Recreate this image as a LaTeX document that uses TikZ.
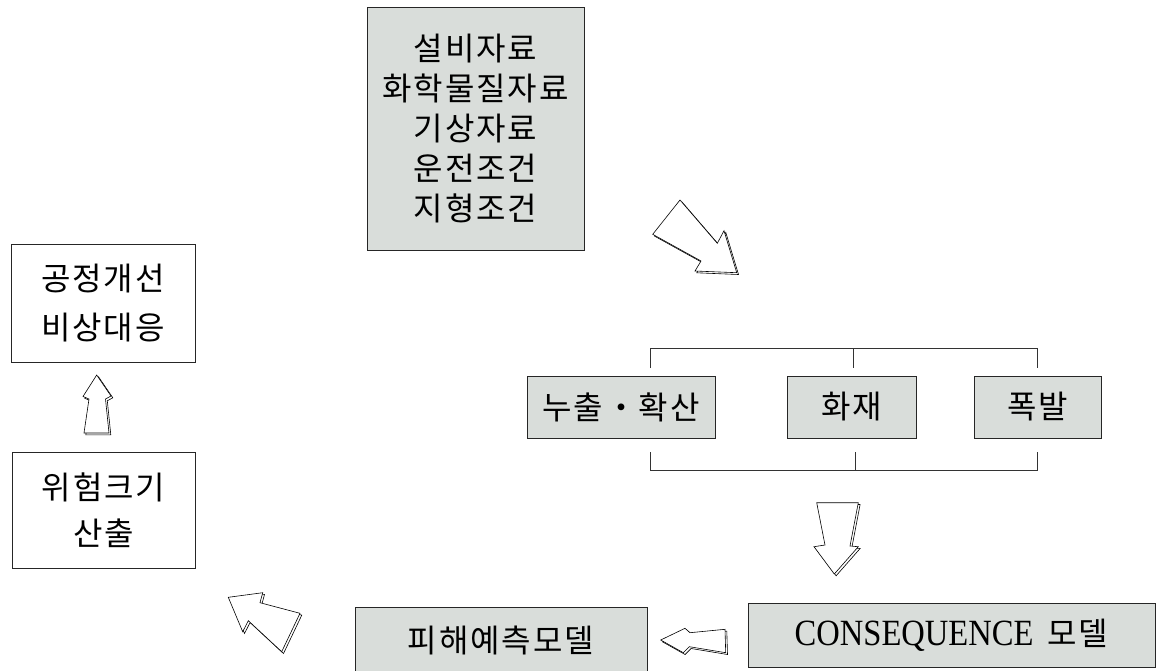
\documentclass[tikz,border=0pt]{standalone}
\usepackage{fontspec}
\setmainfont{Liberation Serif}
\newfontfamily\kr[LetterSpace=6]{Noto Sans CJK KR}
\newfontfamily\latn[FakeStretch=0.88]{Liberation Serif}
\definecolor{panel}{RGB}{217,221,218}

% hollow block arrow with an offset second outline
\newcommand\hollowarrow[1]{%
  \draw[hollow, shift={(1.8,1.8)}] #1;
  \draw[hollow] #1;}

\begin{document}
\begin{tikzpicture}[x=1pt,y=-1pt,
  box/.style={draw=black!85, line width=0.8pt, inner sep=0pt, align=center,
              font=\kr\fontsize{32}{40}\selectfont},
  filled/.style={box, fill=panel},
  plain/.style={box, fill=white},
  bracket/.style={draw=black!80, line width=0.8pt},
  hollow/.style={draw=black, line width=0.6pt, fill=white, line join=miter}]
\useasboundingbox (0,0) rectangle (1157,670);
\clip (0,0) rectangle (1157,670);

% input data
\node[filled, minimum width=217, minimum height=243] (data) at (475.5,128.5)
  {설비자료\\화학물질자료\\기상자료\\운전조건\\지형조건};

% hazard scenarios
\node[filled, minimum width=188, minimum height=62] (leak) at (621,407) {누출・확산};
\node[filled, minimum width=129, minimum height=62] (fire) at (851.5,407) {화재};
\node[filled, minimum width=127, minimum height=62] (expl) at (1037.5,407) {폭발};

% models
\node[filled, minimum width=407, minimum height=64] (cons) at (951.5,635)
  {{\latn\fontsize{37}{40}\selectfont CONSEQUENCE}\hspace{14pt}모델};
\node[filled, minimum width=292, minimum height=66] (dmg) at (501,640) {피해예측모델};

% risk evaluation and response
\node[plain, minimum width=183, minimum height=116, font=\kr\fontsize{32}{46}\selectfont]
  (risk) at (103.5,510) {위험크기\\산출};
\node[plain, minimum width=184, minimum height=118, font=\kr\fontsize{32}{49}\selectfont]
  (resp) at (103,303) {공정개선\\비상대응};

% brackets grouping the scenarios
\coordinate (ta) at (650,348);
\coordinate (tb) at (853,348);
\coordinate (tc) at (1037,348);
\coordinate (ba) at (650,470);
\coordinate (bb) at (855,470);
\coordinate (bc) at (1037,470);
\draw[bracket] ([yshift=-20]ta) -- (ta) -- (tc) -- ([yshift=-20]tc);
\draw[bracket] (tb) -- ([yshift=-20]tb);
\draw[bracket] ([yshift=18]ba) -- (ba) -- (bc) -- ([yshift=18]bc);
\draw[bracket] (bb) -- ([yshift=18]bb);

% flow arrows
\hollowarrow{(652.7,234.3) -- (680,200) -- (717.3,243.3) -- (724,230.7) -- (736.7,272.7) -- (695,271) -- (701,261) -- cycle}
\hollowarrow{(816.7,502.7) -- (858.3,502.7) -- (850,546) -- (858.3,546.7) -- (834.3,574) -- (814,546.7) -- (825,545) -- cycle}
\hollowarrow{(725,629.3) -- (725.7,652.7) -- (689.3,646.7) -- (683.3,652.7) -- (660.7,640) -- (685,628.3) -- (690,632.7) -- cycle}
\hollowarrow{(300,613.3) -- (281.7,651.7) -- (248.3,620.7) -- (242.7,631.7) -- (228.3,597.3) -- (262.7,592.7) -- (260,602.7) -- cycle}
\hollowarrow{(96.7,375) -- (111,396) -- (105.5,399) -- (109,433) -- (84,433) -- (89,399) -- (83,396.5) -- cycle}
\end{tikzpicture}
\end{document}
